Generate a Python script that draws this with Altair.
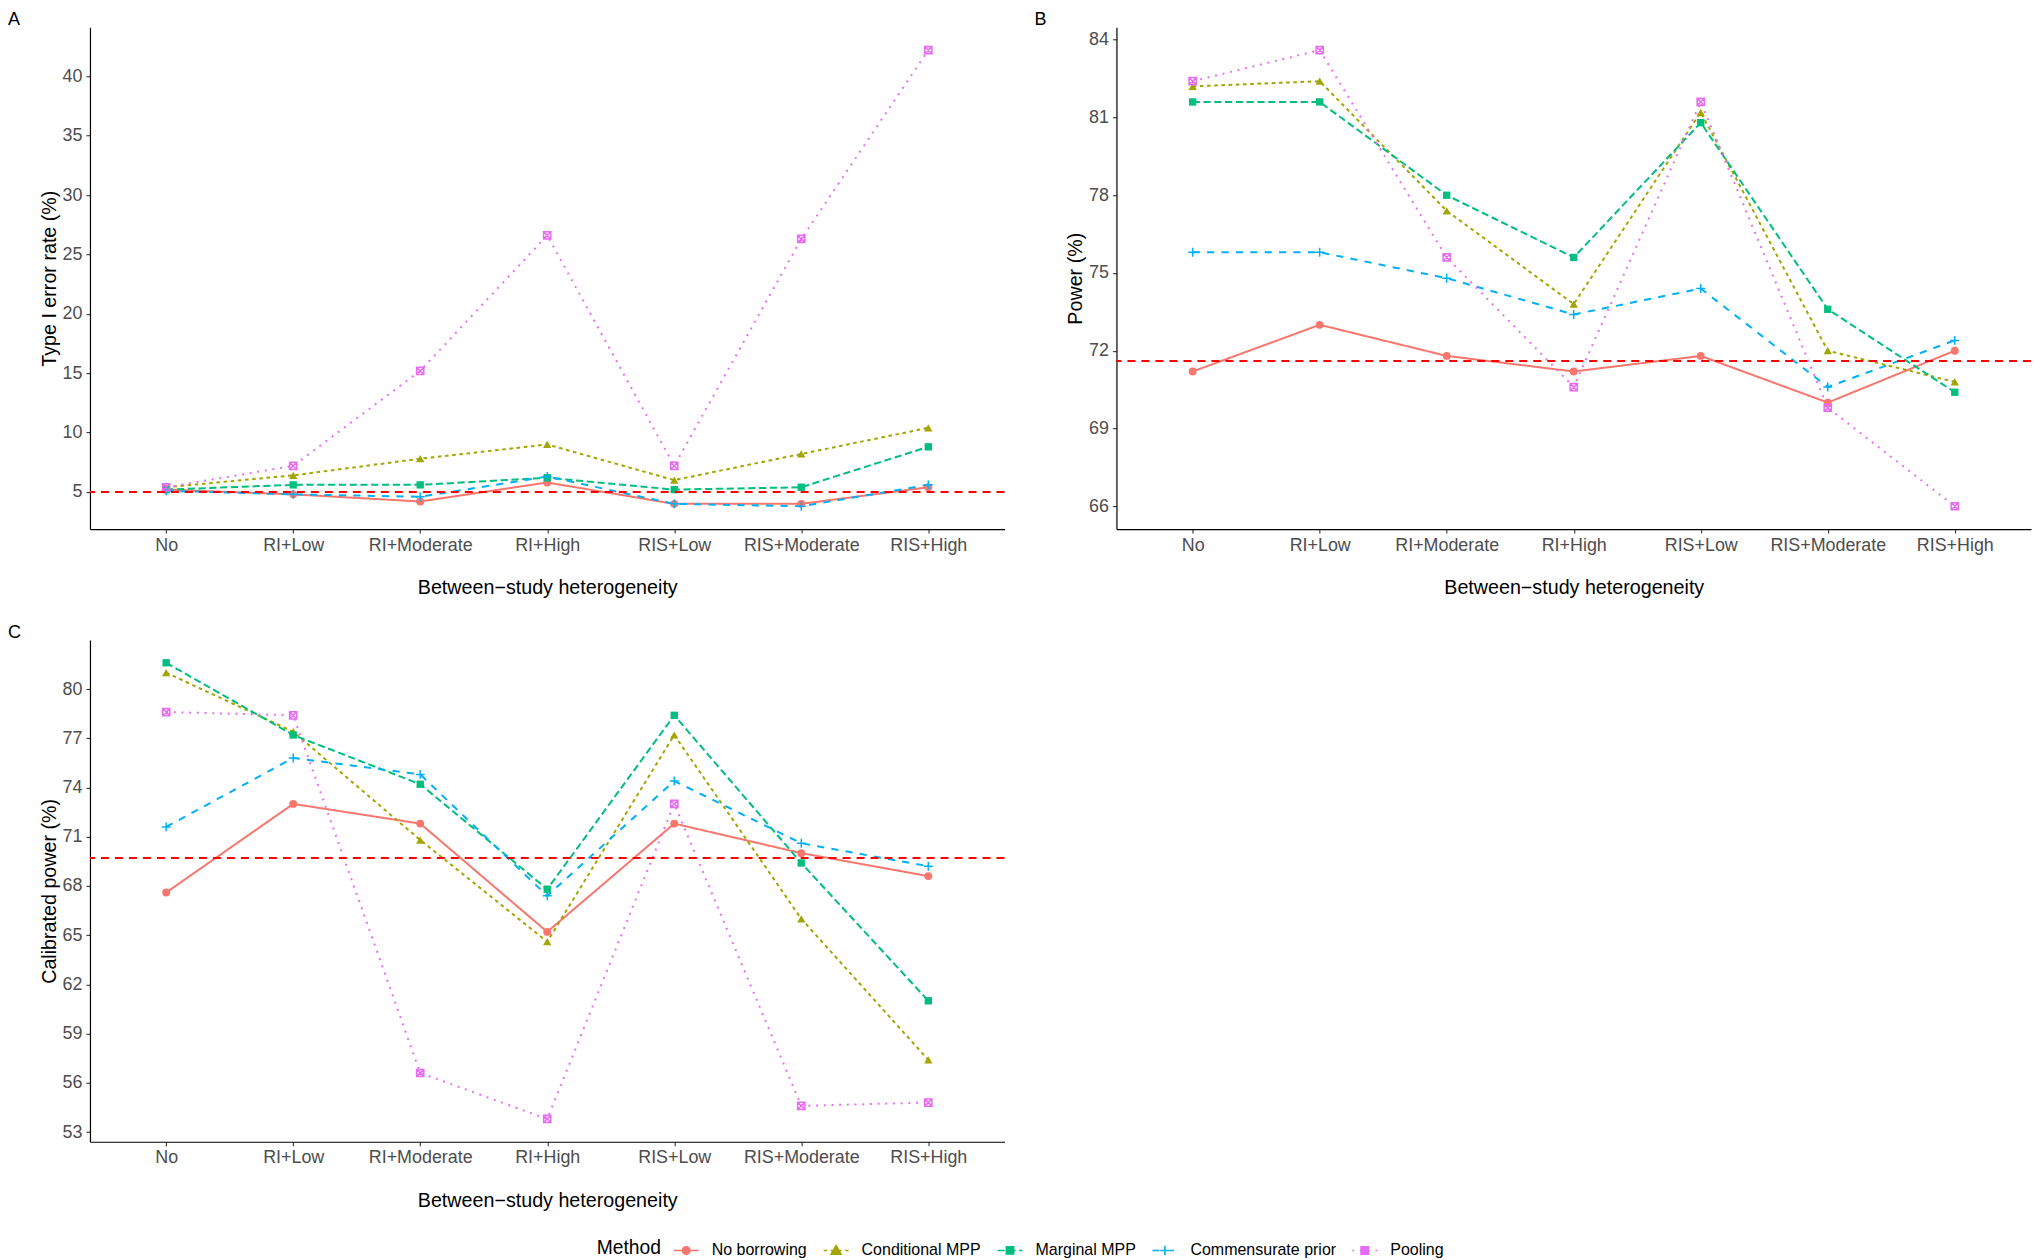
import altair as alt
import pandas as pd

categories = ["No", "RI+Low", "RI+Moderate", "RI+High", "RIS+Low", "RIS+Moderate", "RIS+High"]
methods = ["No borrowing", "Conditional MPP", "Marginal MPP", "Commensurate prior", "Pooling"]

# Panel A: Type I error rate (%)
type1_no_borrowing = [5.2, 4.8, 4.2, 5.8, 4.0, 4.0, 5.4]
type1_conditional = [5.4, 6.4, 7.8, 9.0, 6.0, 8.2, 10.4]
type1_marginal = [5.2, 5.6, 5.6, 6.2, 5.2, 5.4, 8.8]
type1_commensurate = [5.1, 4.8, 4.6, 6.3, 4.0, 3.8, 5.6]
type1_pooling = [5.4, 7.2, 15.2, 26.6, 7.2, 26.3, 42.2]
type1_ref = 5.0

# Panel B: Power (%)
power_no_borrowing = [71.2, 73.0, 71.8, 71.2, 71.8, 70.0, 72.0]
power_conditional = [82.2, 82.4, 77.4, 73.8, 81.2, 72.0, 70.8]
power_marginal = [81.6, 81.6, 78.0, 75.6, 80.8, 73.6, 70.4]
power_commensurate = [75.8, 75.8, 74.8, 73.4, 74.4, 70.6, 72.4]
power_pooling = [82.4, 83.6, 75.6, 70.6, 81.6, 69.8, 66.0]
power_ref = 71.6

# Panel C: Calibrated power (%)
cal_no_borrowing = [67.6, 73.0, 71.8, 65.2, 71.8, 70.0, 68.6]
cal_conditional = [81.0, 77.4, 70.8, 64.6, 77.2, 66.0, 57.4]
cal_marginal = [81.6, 77.2, 74.2, 67.8, 78.4, 69.4, 61.0]
cal_commensurate = [71.6, 75.8, 74.8, 67.4, 74.4, 70.6, 69.2]
cal_pooling = [78.6, 78.4, 56.6, 53.8, 73.0, 54.6, 54.8]
cal_ref = 69.7

type1_ticks = [5, 10, 15, 20, 25, 30, 35, 40]
power_ticks = [66, 69, 72, 75, 78, 81, 84]
cal_ticks = [53, 56, 59, 62, 65, 68, 71, 74, 77, 80]

FONT = "Liberation Sans"
colors = ["#F8766D", "#A3A500", "#00BF7D", "#00B0F6", "#E76BF3"]
key_fills = ["#F8766D", "#A3A500", "#00BF7D", "transparent", "transparent"]
dashes = [[1, 0], [3.6, 3.6], [7.2, 3.6], [7.2, 7.2], [1.9, 5.8]]
marker_shapes = ["circle", "triangle-up", "square",
                 "M-1,0H1M0,-1V1",
                 "M-1,-1H1V1H-1ZM-1,-1L1,1M-1,1L1,-1"]
marker_filled = [True, True, True, False, False]
marker_sizes = [62, 70, 54, 80, 52]

color_scale = alt.Scale(domain=methods, range=colors)


def build_df(series):
    rows = []
    for m, vals in zip(methods, series):
        for i, (c, v) in enumerate(zip(categories, vals)):
            rows.append({"Method": m, "Heterogeneity": c, "idx": i, "value": v})
    return pd.DataFrame(rows)


# legend key glyphs (line segment + marker); path units: [-1,1] = key width
KEY_PX = 25.0
u = 2.0 / KEY_PX


def dash_path(d):
    on, off = d
    if off == 0:
        return "M-1,0H1"
    out, x = [], -1.0
    while x < 1.0:
        x2 = min(x + on * u, 1.0)
        out.append(f"M{x:.3f},0H{x2:.3f}")
        x = x2 + off * u
    return "".join(out)


key_markers = [
    "M0.3,0A0.3,0.3 0 1 1 -0.3,0A0.3,0.3 0 1 1 0.3,0Z",
    "M0,-0.38L0.4,0.31L-0.4,0.31Z",
    "M-0.29,-0.29H0.29V0.29H-0.29Z",
    "M-0.38,0H0.38M0,-0.38V0.38",
    "M-0.3,-0.3H0.3V0.3H-0.3ZM-0.3,-0.3L0.3,0.3M-0.3,0.3L0.3,-0.3",
]
key_paths = [dash_path(d) + mk for d, mk in zip(dashes, key_markers)]

legend = alt.Legend(
    title="Method", orient="none", legendX=507, legendY=1210, direction="horizontal",
    titleOrient="left", titleFont=FONT, titleFontSize=19.3, titleFontWeight="normal",
    titleColor="black", titlePadding=11, titleBaseline="middle",
    labelFont=FONT, labelFontSize=16, labelColor="black", labelOffset=12,
    columnPadding=12, symbolSize=KEY_PX ** 2, symbolStrokeWidth=1.6,
    symbolFillColor="transparent", symbolOpacity=1,
)
color_enc = alt.Color("Method:N", scale=color_scale, legend=legend)

W, H = 915, 502


def panel(series, ref, ytitle, ticks, letter):
    df = build_df(series)
    lo, hi = df["value"].min(), df["value"].max()
    pad = 0.05 * (hi - lo)
    yscale = alt.Scale(domain=[lo - pad, hi + pad], nice=False, zero=False)
    yaxis = alt.Axis(title=ytitle, values=ticks, titlePadding=3)
    x = alt.X("Heterogeneity:N", sort=categories,
              scale=alt.Scale(type="point", domain=categories, padding=0.6),
              axis=alt.Axis(title="Between−study heterogeneity", labelAngle=0, titlePadding=24))
    y = alt.Y("value:Q", scale=yscale, axis=yaxis)
    base = alt.Chart(df)
    # legend carrier (draws nothing; its scales build the legend keys)
    key_df = pd.DataFrame({"Method": methods})
    layers = [alt.Chart(key_df).transform_filter("false").mark_point(
        filled=False, opacity=1, strokeWidth=1.6
    ).encode(
        color=color_enc,
        shape=alt.Shape("Method:N", scale=alt.Scale(domain=methods, range=key_paths), legend=legend),
        fill=alt.Fill("Method:N", scale=alt.Scale(domain=methods, range=key_fills), legend=legend),
    )]
    for m, d in zip(methods, dashes):
        layers.append(base.transform_filter(alt.datum.Method == m).mark_line(
            strokeWidth=2.0, strokeDash=d
        ).encode(x=x, y=y, color=color_enc, order=alt.Order("idx:Q")))
    for m, shp, fl, sz in zip(methods, marker_shapes, marker_filled, marker_sizes):
        layers.append(base.transform_filter(alt.datum.Method == m).mark_point(
            shape=shp, filled=fl, size=sz, opacity=1, strokeWidth=1.5
        ).encode(x=x, y=y, color=color_enc))
    layers.append(alt.Chart(pd.DataFrame({"ref": [ref]})).mark_rule(
        color="#FF0000", strokeDash=[8, 6], strokeWidth=2.0
    ).encode(y=alt.Y("ref:Q", scale=yscale, axis=yaxis)))
    return alt.layer(*layers).properties(
        width=W, height=H,
        title=alt.TitleParams(letter, anchor="start", frame="group", dx=-82, fontSize=18,
                              fontWeight="normal", font=FONT, color="black", offset=-2),
    )


pA = panel([type1_no_borrowing, type1_conditional, type1_marginal, type1_commensurate, type1_pooling],
           type1_ref, "Type I error rate (%)", type1_ticks, "A")
pB = panel([power_no_borrowing, power_conditional, power_marginal, power_commensurate, power_pooling],
           power_ref, "Power (%)", power_ticks, "B")
pC = panel([cal_no_borrowing, cal_conditional, cal_marginal, cal_commensurate, cal_pooling],
           cal_ref, "Calibrated power (%)", cal_ticks, "C")

chart = alt.concat(
    pA, pB, pC, columns=2, spacing={"row": 111, "column": 112}, bounds="flush"
).properties(
    padding={"left": 0, "top": 3, "right": 0, "bottom": 0}
).configure_view(stroke=None).configure_axis(
    grid=False, labelFont=FONT, titleFont=FONT, labelFontSize=17.9, titleFontSize=19.7,
    labelColor="#4D4D4D", titleColor="black", titleFontWeight="normal",
    tickColor="#333333", tickSize=4, tickWidth=1.1, domainColor="black", domainWidth=1.2,
    labelPadding=3,
).configure_axisY(labelPadding=4)

chart.save("out.html", embed_options={"renderer": "svg", "actions": False})
